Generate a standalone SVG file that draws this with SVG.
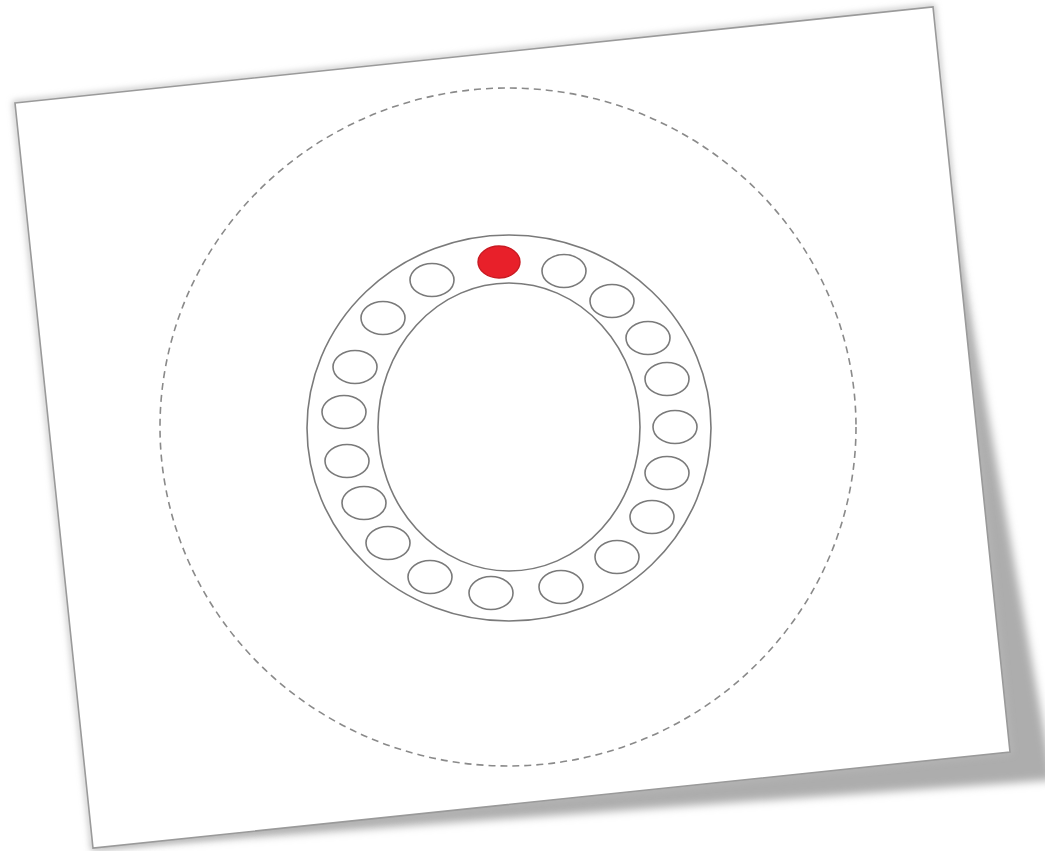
<svg xmlns="http://www.w3.org/2000/svg" width="1045" height="851" viewBox="0 0 1045 851">
  <defs>
    <filter id="blur" x="-10%" y="-10%" width="120%" height="120%">
      <feGaussianBlur stdDeviation="4"/>
    </filter>
    <filter id="soft" x="-5%" y="-5%" width="110%" height="110%">
      <feGaussianBlur stdDeviation="3"/>
    </filter>
    <style>
      .ring { fill: none; stroke: #7a7a7a; stroke-width: 1.6; }
      .ball { fill: #ffffff; stroke: #7a7a7a; stroke-width: 1.6; }
      .ball-red { fill: #e8202a; stroke: #c81a22; stroke-width: 1.4; }
      .dash { fill: none; stroke: #8a8a8a; stroke-width: 1.6; stroke-dasharray: 7 5; }
    </style>
  </defs>
  <rect width="1045" height="851" fill="#ffffff"/>
  <g id="paper">
    <polygon points="920,30 1053,780 93,848 500,400" fill="#adadad" filter="url(#blur)"/>
    <polygon points="15,103 933,7 1010,752 93,848" fill="none" stroke="#b8b8b8" stroke-width="4" filter="url(#soft)"/>
    <polygon points="15,103 933,7 1010,752 93,848" fill="#ffffff" stroke="#9a9a9a" stroke-width="1.6"/>
  </g>
  <g id="outer-boundary">
    <ellipse class="dash" cx="508" cy="427" rx="348" ry="339"/>
  </g>
  <g id="ring">
    <ellipse class="ring" cx="509" cy="428" rx="202" ry="193"/>
    <ellipse class="ring" cx="509" cy="427" rx="131" ry="144"/>
  </g>
  <g id="balls">
    <ellipse id="ball-1" class="ball-red" cx="499" cy="262" rx="21" ry="16"/>
    <ellipse id="ball-2" class="ball" cx="564" cy="271" rx="22" ry="16.5"/>
    <ellipse id="ball-3" class="ball" cx="612" cy="301" rx="22" ry="16.5"/>
    <ellipse id="ball-4" class="ball" cx="648" cy="338" rx="22" ry="16.5"/>
    <ellipse id="ball-5" class="ball" cx="667" cy="379" rx="22" ry="16.5"/>
    <ellipse id="ball-6" class="ball" cx="675" cy="427" rx="22" ry="16.5"/>
    <ellipse id="ball-7" class="ball" cx="667" cy="473" rx="22" ry="16.5"/>
    <ellipse id="ball-8" class="ball" cx="652" cy="517" rx="22" ry="16.5"/>
    <ellipse id="ball-9" class="ball" cx="617" cy="557" rx="22" ry="16.5"/>
    <ellipse id="ball-10" class="ball" cx="561" cy="587" rx="22" ry="16.5"/>
    <ellipse id="ball-11" class="ball" cx="491" cy="593" rx="22" ry="16.5"/>
    <ellipse id="ball-12" class="ball" cx="430" cy="577" rx="22" ry="16.5"/>
    <ellipse id="ball-13" class="ball" cx="388" cy="543" rx="22" ry="16.5"/>
    <ellipse id="ball-14" class="ball" cx="364" cy="503" rx="22" ry="16.5"/>
    <ellipse id="ball-15" class="ball" cx="347" cy="461" rx="22" ry="16.5"/>
    <ellipse id="ball-16" class="ball" cx="344" cy="412" rx="22" ry="16.5"/>
    <ellipse id="ball-17" class="ball" cx="355" cy="367" rx="22" ry="16.5"/>
    <ellipse id="ball-18" class="ball" cx="383" cy="318" rx="22" ry="16.5"/>
    <ellipse id="ball-19" class="ball" cx="432" cy="280" rx="22" ry="16.5"/>
  </g>
  <g id="connectors"/>
</svg>
